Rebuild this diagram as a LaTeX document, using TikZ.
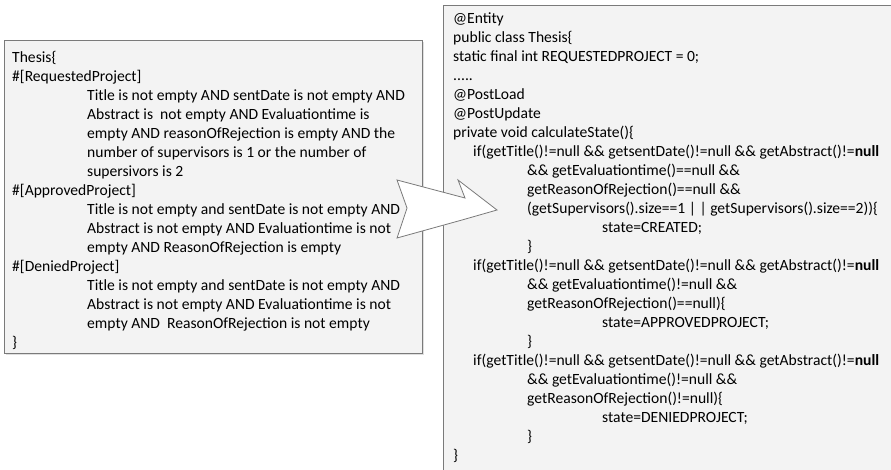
\documentclass[tikz,border=0pt]{standalone}
\usepackage{fontspec}
\setmainfont{Carlito}
\usetikzlibrary{shadows}

\definecolor{boxfill}{HTML}{F3F3F3}
\definecolor{boxline}{HTML}{7A7A7A}

\newcommand{\tabSpec}{\hspace*{75pt}}
\newcommand{\tabIf}{\hspace*{20pt}}
\newcommand{\tabCond}{\hspace*{74pt}}
\newcommand{\tabBody}{\hspace*{149pt}}

\begin{document}
\begin{tikzpicture}[
			x=1pt, y=-1pt,
			codebox/.style = {draw=boxline, fill=boxfill, line width=0.9pt, inner sep=0pt,
					drop shadow={opacity=0.25, shadow xshift=1.5pt, shadow yshift=-2pt}},
			codetext/.style = {anchor=north west, inner sep=0pt, align=left,
					font=\fontsize{15.6}{19}\selectfont},
			bigarrow/.style = {draw=boxline, fill=white, line width=0.8pt, line join=miter},
		]
		\path[use as bounding box] (0,0) rectangle (891,470);
		\clip (0,0) rectangle (891,470);
		\node[codebox, anchor=north west, minimum width=418pt, minimum height=313pt] (spec) at (4,40) {};
		\node[codebox, anchor=north west, minimum width=470pt, minimum height=480pt] (code) at (443,5) {};
		\node[codetext] (specText) at ([shift={(8,11)}]spec.north west) {%
			Thesis\{\\
			\#[RequestedProject]\\
			\tabSpec Title is not empty AND sentDate is not empty AND\\
			\tabSpec Abstract is~ not empty AND Evaluationtime is\\
			\tabSpec empty AND reasonOfRejection is empty AND the\\
			\tabSpec number of supervisors is 1 or the number of\\
			\tabSpec supersivors is 2\\
			\#[ApprovedProject]\\
			\tabSpec Title is not empty and sentDate is not empty AND\\
			\tabSpec Abstract is not empty AND Evaluationtime is not\\
			\tabSpec empty AND ReasonOfRejection is empty\\
			\#[DeniedProject]\\
			\tabSpec Title is not empty and sentDate is not empty AND\\
			\tabSpec Abstract is not empty AND Evaluationtime is not\\
			\tabSpec empty AND~ ReasonOfRejection is not empty\\
			\}};
		\node[codetext] (codeText) at ([shift={(10,8)}]code.north west) {%
			@Entity\\
			public class Thesis\{\\
			static final int REQUESTEDPROJECT = 0;\\
			.....\\
			@PostLoad\\
			@PostUpdate\\
			private void calculateState()\{\\
			\tabIf if(getTitle()!=null \&\& getsentDate()!=null \&\& getAbstract()!=\textbf{null}\\
			\tabCond \&\& getEvaluationtime()==null \&\&\\
			\tabCond getReasonOfRejection()==null \&\&\\
			\tabCond (getSupervisors().size==1 | | getSupervisors().size==2))\{\\
			\tabBody state=CREATED;\\
			\tabCond \}\\
			\tabIf if(getTitle()!=null \&\& getsentDate()!=null \&\& getAbstract()!=\textbf{null}\\
			\tabCond \&\& getEvaluationtime()!=null \&\&\\
			\tabCond getReasonOfRejection()==null)\{\\
			\tabBody state=APPROVEDPROJECT;\\
			\tabCond \}\\
			\tabIf if(getTitle()!=null \&\& getsentDate()!=null \&\& getAbstract()!=\textbf{null}\\
			\tabCond \&\& getEvaluationtime()!=null \&\&\\
			\tabCond getReasonOfRejection()!=null)\{\\
			\tabBody state=DENIEDPROJECT;\\
			\tabCond \}\\
			\}};
		% notched arrow from the spec box to the code box
		\draw[bigarrow] (397,180) -- (465,198) -- (458,180) -- (497,210) -- (462,220) -- (397,238) -- (407,208) -- cycle;
	\end{tikzpicture}
\end{document}
